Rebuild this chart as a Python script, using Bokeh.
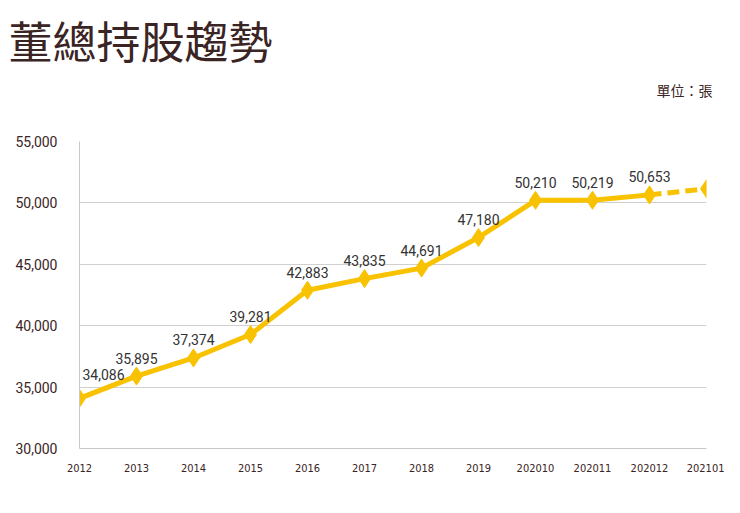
from bokeh.plotting import figure
from bokeh.models import ColumnDataSource, Title, FixedTicker, NumeralTickFormatter
from bokeh.core.properties import value
from bokeh.embed import file_html
from bokeh.resources import INLINE

title_text = "董總持股趨勢"
unit_text = "單位：張"
categories = ["2012", "2013", "2014", "2015", "2016", "2017", "2018", "2019",
              "202010", "202011", "202012", "202101"]
holdings = [34086, 35895, 37374, 39281, 42883, 43835, 44691, 47180,
            50210, 50219, 50653, 51150]
labelled = [True] * 11 + [False]
y_ticks = [30000, 35000, 40000, 45000, 50000, 55000]

LINE = "#F9C200"
DARK = "#3b2424"

n = len(categories)
xs = list(range(n))

p = figure(width=724, height=497, output_backend="svg", toolbar_location=None,
           x_range=(0, n - 1), y_range=(y_ticks[0], y_ticks[-1]),
           min_border_left=79, min_border_right=18, min_border_top=141, min_border_bottom=49)
p.outline_line_color = None
p.background_fill_color = "white"
p.border_fill_color = "white"

# title (outermost) and unit note (next to the frame)
p.title.text = title_text
p.title.text_font = "Noto Sans CJK TC"
p.title.text_font_size = "44px"
p.title.text_font_style = "normal"
p.title.text_color = DARK
p.title.align = "left"
p.title.offset = -71
p.title.standoff = -72
p.add_layout(Title(text=unit_text, text_font="Noto Sans CJK TC", text_font_size="14px",
                   text_font_style="normal", text_color=DARK, align="right",
                   offset=-6, standoff=84), "above")

solid = ColumnDataSource(dict(x=xs[:-1], y=holdings[:-1]))
dash = ColumnDataSource(dict(x=xs[-2:], y=holdings[-2:]))
p.line("x", "y", source=solid, line_color=LINE, line_width=5, line_join="round")
p.line("x", "y", source=dash, line_color=LINE, line_width=5, line_dash="12 6")
pts = ColumnDataSource(dict(x=xs, y=holdings))
p.scatter("x", "y", source=pts, marker="diamond", size=18, fill_color=LINE, line_color=LINE)

lab_x = [x for x, f in zip(xs, labelled) if f]
lab_y = [y for y, f in zip(holdings, labelled) if f]
lab_t = [f"{v:,}" for v, f in zip(holdings, labelled) if f]
lab_dx = [24 if i == 0 else 0 for i in range(len(lab_x))]
lab_dy = [-24 if i == 0 else -18 for i in range(len(lab_x))]
ls = ColumnDataSource(dict(x=lab_x, y=lab_y, t=lab_t, dx=lab_dx, dy=lab_dy))
p.text("x", "y", text="t", source=ls, x_offset="dx", y_offset="dy",
       text_align="center", text_baseline="alphabetic",
       text_font=value("Roboto"), text_font_size="14px", text_color="#333333")

# axes
p.xaxis.ticker = FixedTicker(ticks=xs)
p.xaxis.major_label_overrides = {i: c for i, c in enumerate(categories)}
p.xaxis.major_tick_line_color = None
p.xaxis.minor_tick_line_color = None
p.xaxis.axis_line_color = "#c8c8c8"
p.xaxis.major_label_text_font = "'DejaVu Sans Condensed', Roboto"
p.xaxis.major_label_text_font_size = "11px"
p.xaxis.major_label_text_color = DARK
p.xaxis.major_label_standoff = 9

p.yaxis.ticker = FixedTicker(ticks=y_ticks)
p.yaxis.formatter = NumeralTickFormatter(format="0,0")
p.yaxis.major_tick_line_color = None
p.yaxis.minor_tick_line_color = None
p.yaxis.axis_line_color = "#c8c8c8"
p.yaxis.major_label_text_font = "Roboto"
p.yaxis.major_label_text_font_size = "14px"
p.yaxis.major_label_text_color = DARK
p.yaxis.major_label_standoff = 16

p.xgrid.grid_line_color = None
p.ygrid.grid_line_color = "#d0d0d0"
p.ygrid.ticker = FixedTicker(ticks=y_ticks)

open("out.html", "w").write(file_html(p, INLINE))
